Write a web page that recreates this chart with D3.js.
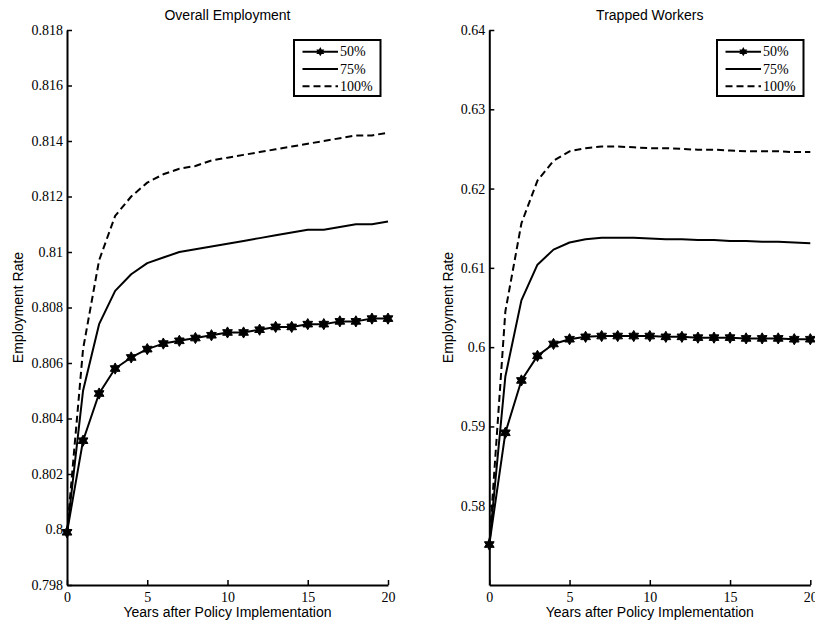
<!DOCTYPE html>
<html>
<head>
<meta charset="utf-8">
<script src="https://cdn.jsdelivr.net/npm/d3@7"></script>
<style>
  html, body { margin: 0; padding: 0; background: #fff; }
  svg { display: block; }
</style>
</head>
<body>
<svg id="chart" width="815" height="626"></svg>
<script>
// ---------- data ----------
const years = [0,1,2,3,4,5,6,7,8,9,10,11,12,13,14,15,16,17,18,19,20];

const overall50  = [0.7999,0.8032,0.8049,0.8058,0.8062,0.8065,0.8067,0.8068,0.8069,0.8070,0.8071,0.8071,0.8072,0.8073,0.8073,0.8074,0.8074,0.8075,0.8075,0.8076,0.8076];
const overall75  = [0.7999,0.8050,0.8074,0.8086,0.8092,0.8096,0.8098,0.8100,0.8101,0.8102,0.8103,0.8104,0.8105,0.8106,0.8107,0.8108,0.8108,0.8109,0.8110,0.8110,0.8111];
const overall100 = [0.7999,0.8065,0.8097,0.8113,0.8120,0.8125,0.8128,0.8130,0.8131,0.8133,0.8134,0.8135,0.8136,0.8137,0.8138,0.8139,0.8140,0.8141,0.8142,0.8142,0.8143];

const trapped50  = [0.5751,0.5892,0.5958,0.5989,0.6004,0.6010,0.6013,0.6014,0.6014,0.6014,0.6014,0.6013,0.6013,0.6012,0.6012,0.6012,0.6011,0.6011,0.6011,0.6010,0.6010];
const trapped75  = [0.5751,0.5963,0.6059,0.6104,0.6123,0.6132,0.6136,0.6138,0.6138,0.6138,0.6137,0.6136,0.6136,0.6135,0.6135,0.6134,0.6134,0.6133,0.6133,0.6132,0.6131];
const trapped100 = [0.5751,0.6045,0.6156,0.6210,0.6235,0.6247,0.6251,0.6253,0.6253,0.6252,0.6251,0.6251,0.6250,0.6249,0.6249,0.6248,0.6247,0.6247,0.6247,0.6246,0.6246];

const seriesNames = ["50%", "75%", "100%"];
const xTicks = [0,5,10,15,20];
const overallYTicks = [0.798,0.800,0.802,0.804,0.806,0.808,0.810,0.812,0.814,0.816,0.818];
const trappedYTicks = [0.58,0.59,0.60,0.61,0.62,0.63,0.64];
const titles = ["Overall Employment", "Trapped Workers"];
const xLabel = "Years after Policy Implementation";
const yLabel = "Employment Rate";

// ---------- drawing ----------
const svg = d3.select("#chart");
const serif = "'Liberation Serif','Times New Roman',serif";
const sans  = "'Liberation Sans',Arial,Helvetica,sans-serif";

function hexagramPath(r) {
  const pts = [];
  for (let i = 0; i < 12; i++) {
    const a = -Math.PI / 2 + i * Math.PI / 6;
    const rr = (i % 2 === 0) ? r : r * 0.577;
    pts.push([rr * Math.cos(a), rr * Math.sin(a)]);
  }
  return "M" + pts.map(p => p[0].toFixed(2) + "," + p[1].toFixed(2)).join("L") + "Z";
}
const starD = hexagramPath(5.6);
const fmt = d => String(+d.toFixed(3));

const panels = [
  { left: 67, right: 388, title: titles[0], yDomain: [0.798, 0.818], yTicks: overallYTicks,
    data: [overall50, overall75, overall100], yLabelX: 22.5, legendX: 294 },
  { left: 489.3, right: 810.3, title: titles[1], yDomain: [0.57, 0.64], yTicks: trappedYTicks,
    data: [trapped50, trapped75, trapped100], yLabelX: 453, legendX: 717 }
];
const plotTop = 30, plotBottom = 585;

panels.forEach(p => {
  const x = d3.scaleLinear().domain([0, 20]).range([p.left, p.right]);
  const y = d3.scaleLinear().domain(p.yDomain).range([plotBottom, plotTop]);
  const g = svg.append("g");

  // axes
  const ya = g.append("g").attr("transform", `translate(${p.left},0)`)
    .call(d3.axisLeft(y).tickValues(p.yTicks).tickFormat(fmt).tickSizeInner(-5).tickSizeOuter(0).tickPadding(4));
  const xa = g.append("g").attr("transform", `translate(0,${plotBottom})`)
    .call(d3.axisBottom(x).tickValues(xTicks).tickFormat(d => d).tickSizeInner(-5).tickSizeOuter(0).tickPadding(7));
  [ya, xa].forEach(a => {
    a.select(".domain").attr("stroke", "#000").attr("stroke-width", 2);
    a.selectAll(".tick line").attr("stroke", "#000").attr("stroke-width", 1.5);
    a.selectAll(".tick text").attr("font-family", serif).attr("font-size", 14).attr("fill", "#000");
  });

  // lines
  const line = d3.line().x((d, i) => x(years[i])).y(d => y(d));
  const styles = [
    { dash: null }, { dash: null }, { dash: "7,4" }
  ];
  p.data.forEach((vals, k) => {
    g.append("path").datum(vals)
      .attr("d", line)
      .attr("fill", "none")
      .attr("stroke", "#000")
      .attr("stroke-width", 2)
      .attr("stroke-linejoin", "round")
      .attr("stroke-dasharray", styles[k].dash);
  });
  // markers for 50%
  g.selectAll("path.star").data(p.data[0]).enter().append("path")
    .attr("class", "star")
    .attr("d", starD)
    .attr("transform", (d, i) => `translate(${x(years[i])},${y(d)})`)
    .attr("fill", "#000").attr("stroke", "#000").attr("stroke-width", 1);

  // title
  g.append("text").attr("x", (p.left + p.right) / 2).attr("y", 19.5)
    .attr("text-anchor", "middle").attr("font-family", sans).attr("font-size", 14)
    .text(p.title);
  // x label
  g.append("text").attr("x", (p.left + p.right) / 2).attr("y", 617)
    .attr("text-anchor", "middle").attr("font-family", sans).attr("font-size", 14)
    .text(xLabel);
  // y label
  g.append("text").attr("transform", `translate(${p.yLabelX},${(plotTop + plotBottom) / 2}) rotate(-90)`)
    .attr("text-anchor", "middle").attr("font-family", sans).attr("font-size", 14)
    .text(yLabel);

  // legend
  const lg = g.append("g").attr("transform", `translate(${p.legendX},40)`);
  lg.append("rect").attr("x", 0).attr("y", 0).attr("width", 86.5).attr("height", 56)
    .attr("fill", "#fff").attr("stroke", "#000").attr("stroke-width", 2);
  const rows = [11.7, 28.9, 46.3];
  seriesNames.forEach((name, k) => {
    lg.append("line").attr("x1", 8.5).attr("x2", 44).attr("y1", rows[k]).attr("y2", rows[k])
      .attr("stroke", "#000").attr("stroke-width", 2)
      .attr("stroke-dasharray", styles[k].dash);
    if (k === 0) {
      lg.append("path").attr("d", hexagramPath(4.6))
        .attr("transform", `translate(26.3,${rows[k]})`).attr("fill", "#000");
    }
    lg.append("text").attr("x", 46).attr("y", rows[k]).attr("dy", "0.33em")
      .attr("font-family", serif).attr("font-size", 14).text(name);
  });
});
</script>
</body>
</html>
